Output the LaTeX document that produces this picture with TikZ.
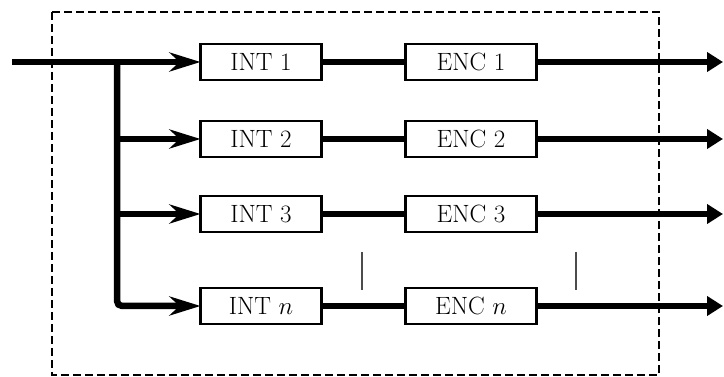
\documentclass[tikz,border=0pt]{standalone}
\usepackage{fontspec}
\usepackage{tikz}
\usetikzlibrary{arrows.meta,positioning}

\begin{document}
\begin{tikzpicture}[
  x=1pt, y=-1pt,
  font=\fontsize{25}{29}\selectfont,
  blk/.style={draw, line width=2.6pt, outer sep=0pt, inner sep=0pt,
              minimum height=36pt},
  intb/.style={blk, minimum width=121pt},
  encb/.style={blk, minimum width=131pt},
  wire/.style={line width=6.5pt},
  link/.style={line width=5.5pt},
  inarr/.style={wire, -{Stealth[length=31pt, width=19pt, inset=10pt]}},
  outarr/.style={wire, -{Triangle[length=16pt, width=19pt]}},
  frame/.style={line width=2pt, dash pattern=on 8pt off 4pt},
  dotbar/.style={line width=1.4pt, black!70},
]
\useasboundingbox (0,0) rectangle (724,377);

% The enclosing dashed frame.
\draw[frame] (52,12) rectangle (659,375);

% Interleavers on the left, encoders beside them.
\node[intb] (I1) at (261,62)  {INT 1};
\node[intb] (I2) at (261,139) {INT 2};
\node[intb] (I3) at (261,214) {INT 3};
\node[intb] (In) at (261,306) {INT $n$};

\node[encb, right=84pt of I1] (E1) {ENC 1};
\node[encb, right=84pt of I2] (E2) {ENC 2};
\node[encb, right=84pt of I3] (E3) {ENC 3};
\node[encb, right=84pt of In] (En) {ENC $n$};

% Input and the trunk that feeds every branch.
\coordinate (in) at (12,62);
\coordinate (tr) at (117,62);
\coordinate (out) at (723,0);
\draw[inarr] (in) -- (I1);
\draw[inarr] (tr |- I2) -- (I2);
\draw[inarr] (tr |- I3) -- (I3);
\draw[inarr, rounded corners=5pt] (tr) |- (In);

\foreach \k in {1,2,3,n} {
  \draw[link] (I\k) -- (E\k);
  \draw[outarr] (E\k) -- (E\k -| out);
}

% Vertical ellipsis marks.
\draw[dotbar] (362,252) -- (362,290);
\draw[dotbar] (576,252) -- (576,290);

\end{tikzpicture}
\end{document}
